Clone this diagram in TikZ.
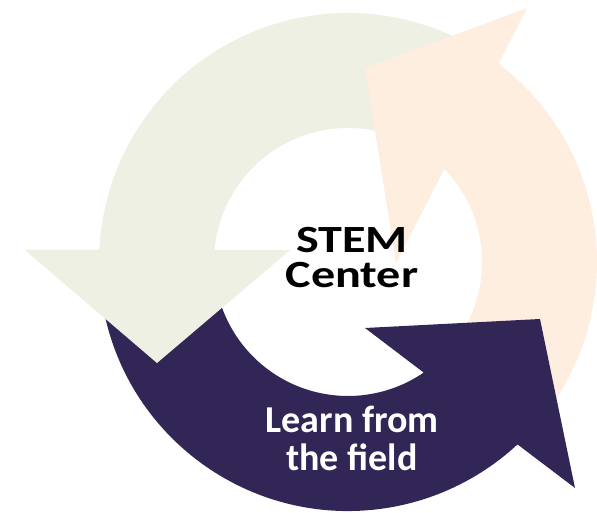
\documentclass[tikz,border=0pt]{standalone}
\usepackage{fontspec}
\setmainfont{Carlito}
\definecolor{sage}{HTML}{EEF0E3}
\definecolor{peach}{HTML}{FDEEE0}
\definecolor{plum}{HTML}{322656}
\begin{document}
\begin{tikzpicture}[x=1pt,y=1pt,
	hub/.style={font=\bfseries\fontsize{38.5}{38}\selectfont,inner sep=0,anchor=base},
	field/.style={font=\bfseries\fontsize{38}{38}\selectfont,inner sep=0,anchor=base,text=white}]
\useasboundingbox (0,0) rectangle (597,512);
\coordinate (c) at (348,250);
% green arrow, top left
\fill[sage] ([shift={(c)}]62:249) arc[start angle=62,end angle=177.2,radius=249]
	-- (25,262) -- (157,149) -- (290,262) -- ([shift={(c)}]174.9:134)
	arc[start angle=174.9,end angle=62,radius=134] -- cycle;
% peach arrow, right
\fill[peach] ([shift={(c)}]-35:249) arc[start angle=-35,end angle=52.8,radius=249]
	-- (527,504) -- (365,444) -- (396,249) -- ([shift={(c)}]44:134)
	arc[start angle=44,end angle=-35,radius=134] -- cycle;
% purple arrow, bottom
\fill[plum] ([shift={(c)}]190:249) arc[start angle=190,end angle=312.9,radius=249]
	-- (575,24) -- (540,193) -- (365,184) -- ([shift={(c)}]304.4:134)
	arc[start angle=304.4,end angle=190,radius=134] -- cycle;
% green head again over the purple tail
\fill[sage] (25,262) -- (157,149) -- (290,262) -- cycle;
\node[hub] (stem) at (352,259) {\scalebox{1.25}[1]{STEM}};
\node[hub] (centre) at (352,224) {\scalebox{1.25}[1]{Center}};
\node[field] (learn) at (352,80) {Learn from};
\node[field] (thefield) at (352,42) {the field};
\end{tikzpicture}
\end{document}
